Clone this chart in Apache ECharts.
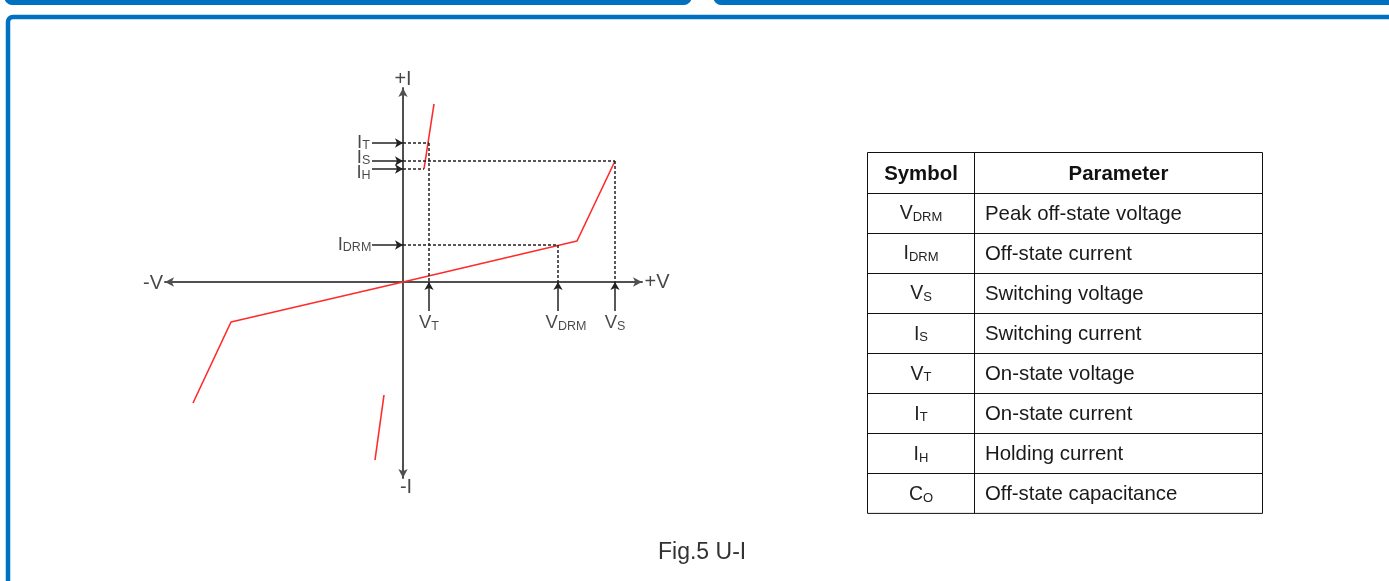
<!DOCTYPE html>
<html>
<head>
<meta charset="utf-8">
<script src="https://cdn.jsdelivr.net/npm/echarts@6/dist/echarts.min.js"></script>
<style>
  html, body { margin: 0; padding: 0; background: #fff; }
  #main { width: 1389px; height: 581px; }
</style>
</head>
<body>
<div id="main"></div>
<script>
// U-I curve (V, I) in arbitrary units
const curveMain = [[-21.0, -12.1], [-17.2, -4.0], [0, 0], [17.4, 4.1], [21.2, 12.1]]
const curveUpper = [[2.1, 11.3], [3.1, 17.8]]
const curveLower = [[-1.9, -11.3], [-2.8, -17.8]]

// characteristic points
const vT = 2.6
const vDRM = 15.5
const vS = 21.2
const iT = 13.9
const iS = 12.1
const iH = 11.3
const iDRM = 3.7

// parameter table
const tableHead = ['Symbol', 'Parameter']
const symMain = ['V', 'I', 'V', 'I', 'V', 'I', 'I', 'C']
const symSub = ['DRM', 'DRM', 'S', 'S', 'T', 'T', 'H', 'O']
const paramNames = ['Peak off-state voltage', 'Off-state current', 'Switching voltage', 'Switching current',
    'On-state voltage', 'On-state current', 'Holding current', 'Off-state capacitance']

const FONT = '"Liberation Sans", Arial, sans-serif'
const mychart = echarts.init(document.getElementById('main'))

// rich text with subscript-like small caps
function richLabel(size, subSize) {
    return {
        m: { fontSize: size, fontFamily: FONT, color: '#1a1a1a', verticalAlign: 'bottom', lineHeight: size },
        s: { fontSize: subSize, fontFamily: FONT, color: '#1a1a1a', verticalAlign: 'bottom', lineHeight: size },
    }
}

// labels placed next to the curve values
const labelData = [
    { value: [0, 20.3], label: { formatter: '+I', fontSize: 20 } },
    { value: [0.3, -20.5], label: { formatter: '-I', fontSize: 20 } },
    { value: [-25.0, -0.1], label: { formatter: '-V', fontSize: 20 } },
    { value: [25.4, 0], label: { formatter: '+V', fontSize: 20 } },
    { value: [-3.95, iT], label: { formatter: '{m|I}{s|T}' } },
    { value: [-3.95, iS + 0.3], label: { formatter: '{m|I}{s|S}' } },
    { value: [-3.95, iH - 0.4], label: { formatter: '{m|I}{s|H}' } },
    { value: [-4.85, iDRM], label: { formatter: '{m|I}{s|DRM}' } },
    { value: [vT, -4.15], label: { formatter: '{m|V}{s|T}' } },
    { value: [vDRM + 0.8, -4.15], label: { formatter: '{m|V}{s|DRM}' } },
    { value: [vS, -4.15], label: { formatter: '{m|V}{s|S}' } },
]

// dashed guide lines
const dashLines = [
    [[0, iT], [vT, iT]],
    [[vT, iT], [vT, 0]],
    [[0, iS], [vS, iS]],
    [[0, iH], [curveUpper[0][0], iH]],
    [[0, iDRM], [vDRM, iDRM]],
    [[vDRM, iDRM], [vDRM, 0]],
    [[vS, iS], [vS, 0]],
]

// pointer arrows to the axes
const arrowLines = [
    [[-3.1, iT], [0, iT]],
    [[-3.1, iS], [0, iS]],
    [[-3.1, iH], [0, iH]],
    [[-3.1, iDRM], [0, iDRM]],
    [[vT, -2.9], [vT, 0]],
    [[vDRM, -2.9], [vDRM, 0]],
    [[vS, -2.9], [vS, 0]],
]

function toMark(list) {
    return list.map(p => [{ coord: p[0] }, { coord: p[1] }])
}

// table graphics
const tLeft = 867.5, tMid = 974.5, tRight = 1262.5, tTop = 152.5, rowH = 40.1
const rows = symMain.length + 1
const table = []
table.push({
    type: 'rect', shape: { x: tLeft, y: tTop, width: tRight - tLeft, height: rowH * rows },
    style: { fill: 'none', stroke: '#111', lineWidth: 1 }, silent: true,
})
for (let i = 1; i < rows; i++) {
    const y = Math.round(tTop + rowH * i) + 0.5
    table.push({ type: 'line', shape: { x1: tLeft, y1: y, x2: tRight, y2: y }, style: { stroke: '#111', lineWidth: 1 }, silent: true })
}
table.push({ type: 'line', shape: { x1: tMid, y1: tTop, x2: tMid, y2: tTop + rowH * rows }, style: { stroke: '#111', lineWidth: 1 }, silent: true })
table.push({
    type: 'text', x: (tLeft + tMid) / 2, y: tTop + rowH / 2 + 1.5,
    style: { text: tableHead[0], font: 'bold 20.4px ' + FONT, fill: '#111', align: 'center', verticalAlign: 'middle' },
})
table.push({
    type: 'text', x: (tMid + tRight) / 2, y: tTop + rowH / 2 + 1.5,
    style: { text: tableHead[1], font: 'bold 20.4px ' + FONT, fill: '#111', align: 'center', verticalAlign: 'middle' },
})
symMain.forEach((s, i) => {
    const yc = tTop + rowH * (i + 1.5)
    table.push({
        type: 'text', x: (tLeft + tMid) / 2, y: yc + 1.5,
        style: {
            text: '{m|' + s + '}{s|' + symSub[i] + '}', align: 'center', verticalAlign: 'middle',
            rich: {
                m: { fontSize: 19.5, fontFamily: FONT, fill: '#222', verticalAlign: 'bottom', lineHeight: 19.5 },
                s: { fontSize: 13, fontFamily: FONT, fill: '#222', verticalAlign: 'bottom', lineHeight: 19.5 },
            },
        },
    })
    table.push({
        type: 'text', x: 985, y: yc + 1.5,
        style: { text: paramNames[i], font: '20.4px ' + FONT, fill: '#1a1a1a', align: 'left', verticalAlign: 'middle' },
    })
})

// blue frames
const frames = [
    { type: 'rect', shape: { x: 7, y: -60, width: 682, height: 62.5, r: 5 }, style: { fill: 'none', stroke: '#0070c0', lineWidth: 5 }, silent: true },
    { type: 'rect', shape: { x: 716, y: -60, width: 720, height: 62.5, r: 5 }, style: { fill: 'none', stroke: '#0070c0', lineWidth: 5 }, silent: true },
    { type: 'rect', shape: { x: 8, y: 17, width: 1440, height: 640, r: 5 }, style: { fill: 'none', stroke: '#0070c0', lineWidth: 4.5 }, silent: true },
]

let option = {
    animation: false,
    title: {
        text: 'Fig.5 U-I',
        left: 658,
        top: 541,
        padding: 0,
        textStyle: { fontFamily: FONT, fontSize: 23, fontWeight: 'normal', color: '#333' },
    },
    grid: { left: 165, top: 88, width: 477, height: 390 },
    xAxis: {
        type: 'value', min: -23.8, max: 23.9,
        axisLine: { show: true, symbol: ['arrow', 'arrow'], symbolSize: [7, 9], lineStyle: { color: '#505050', width: 2 } },
        axisTick: { show: false }, axisLabel: { show: false }, splitLine: { show: false },
    },
    yAxis: {
        type: 'value', min: -19.6, max: 19.4,
        axisLine: { show: true, symbol: ['arrow', 'arrow'], symbolSize: [7, 9], lineStyle: { color: '#505050', width: 2 } },
        axisTick: { show: false }, axisLabel: { show: false }, splitLine: { show: false },
    },
    series: [
        {
            type: 'line', data: curveMain, symbol: 'none', silent: true,
            lineStyle: { color: '#ff2b2b', width: 1.6 },
        },
        {
            type: 'line', data: curveUpper, symbol: 'none', silent: true,
            lineStyle: { color: '#ff2b2b', width: 1.6 },
            markLine: {
                silent: true, symbol: ['none', 'none'], label: { show: false },
                lineStyle: { color: '#222', width: 1.5, type: [3, 2] },
                data: toMark(dashLines),
            },
        },
        {
            type: 'line', data: curveLower, symbol: 'none', silent: true,
            lineStyle: { color: '#ff2b2b', width: 1.6 },
            markLine: {
                silent: true, symbol: ['none', 'arrow'], symbolSize: [7, 8], label: { show: false },
                lineStyle: { color: '#222', width: 1.5, type: 'solid' },
                data: toMark(arrowLines),
            },
        },
        {
            type: 'scatter', data: labelData, symbolSize: 0, clip: false, silent: true,
            label: {
                show: true, position: 'inside', color: '#1a1a1a', fontFamily: FONT, fontSize: 18,
                rich: richLabel(18.5, 12.5),
            },
        },
    ],
    graphic: frames.concat(table),
}

mychart.setOption(option)
</script>
</body>
</html>
